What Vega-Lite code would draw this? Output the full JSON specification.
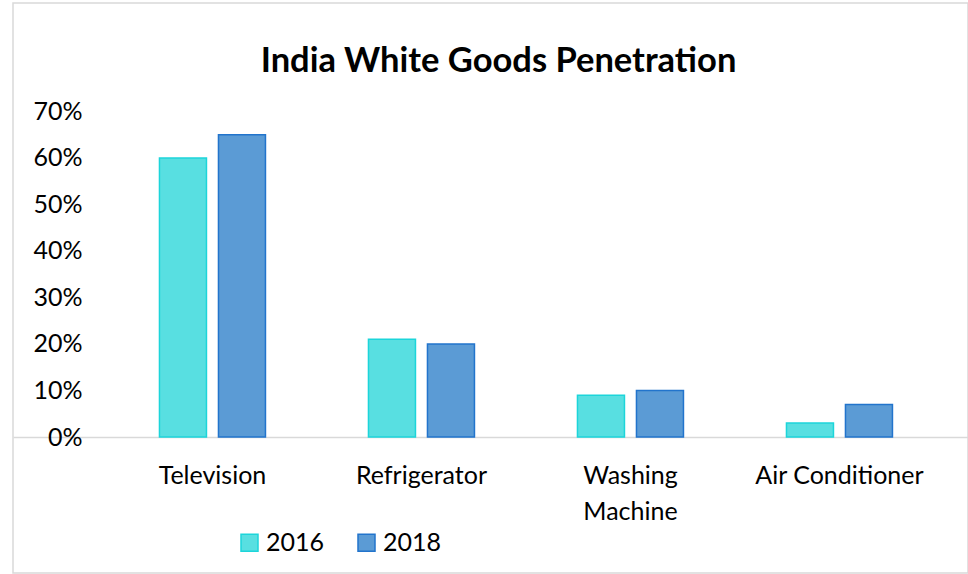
{
  "$schema": "https://vega.github.io/schema/vega-lite/v6.json",
  "autosize": {"type": "none"},
  "padding": {"left": 13, "top": 3, "right": 0, "bottom": 1},
  "width": 955,
  "height": 570,
  "background": "#ffffff",
  "title": {
    "text": "India White Goods Penetration",
    "font": "Lato",
    "fontSize": 34.5,
    "fontWeight": "bold",
    "color": "#000000",
    "anchor": "middle",
    "frame": "group",
    "dx": 8,
    "offset": -76
  },
  "data": {
    "values": [
      {"item": "Television", "year": "2016", "share": 0.60},
      {"item": "Television", "year": "2018", "share": 0.65},
      {"item": "Refrigerator", "year": "2016", "share": 0.21},
      {"item": "Refrigerator", "year": "2018", "share": 0.20},
      {"item": "Washing Machine", "year": "2016", "share": 0.09},
      {"item": "Washing Machine", "year": "2018", "share": 0.10},
      {"item": "Air Conditioner", "year": "2016", "share": 0.03},
      {"item": "Air Conditioner", "year": "2018", "share": 0.07}
    ]
  },
  "mark": {"type": "bar", "strokeWidth": 1.5},
  "encoding": {
    "x": {
      "field": "item",
      "type": "nominal",
      "sort": ["Television", "Refrigerator", "Washing Machine", "Air Conditioner"],
      "scale": {"paddingInner": 0, "paddingOuter": 0.2847, "align": 0.798},
      "axis": {
        "title": null,
        "orient": "bottom",
        "offset": -136,
        "labelAngle": 0,
        "ticks": false,
        "labelPadding": 26,
        "labelFont": "Lato",
        "labelFontSize": 25,
        "labelColor": "#000000",
        "labelLineHeight": 36,
        "labelExpr": "datum.label == 'Washing Machine' ? ['Washing', 'Machine'] : datum.label",
        "domainColor": "#d9d9d9",
        "domainWidth": 1.5,
        "grid": false
      }
    },
    "xOffset": {
      "field": "year",
      "type": "nominal",
      "scale": {"paddingInner": 0.2034, "paddingOuter": 0.8729}
    },
    "y": {
      "field": "share",
      "type": "quantitative",
      "scale": {"domain": [-0.292473, 0.933333], "nice": false, "zero": false},
      "axis": {
        "title": null,
        "offset": -95,
        "values": [0, 0.1, 0.2, 0.3, 0.4, 0.5, 0.6, 0.7],
        "format": ".0%",
        "domain": false,
        "ticks": false,
        "grid": false,
        "labelPadding": 26,
        "labelFont": "Lato",
        "labelFontSize": 25,
        "labelColor": "#000000"
      }
    },
    "y2": {"datum": 0},
    "color": {
      "field": "year",
      "type": "nominal",
      "scale": {"domain": ["2016", "2018"], "range": ["#58DFE1", "#5B9BD5"]},
      "legend": {
        "title": null,
        "orient": "none",
        "direction": "horizontal",
        "legendX": 224,
        "legendY": 527,
        "padding": 0,
        "symbolType": "square",
        "symbolSize": 289,
        "symbolStrokeWidth": 1.5,
        "symbolOpacity": 1,
        "labelFont": "Lato",
        "labelFontSize": 25,
        "labelColor": "#000000",
        "labelOffset": 4,
        "columnPadding": 29
      }
    },
    "stroke": {
      "field": "year",
      "type": "nominal",
      "scale": {"domain": ["2016", "2018"], "range": ["#1CD5DA", "#2274CC"]},
      "legend": null
    }
  },
  "config": {
    "view": {"stroke": "#d9d9d9", "strokeWidth": 1.5}
  }
}
